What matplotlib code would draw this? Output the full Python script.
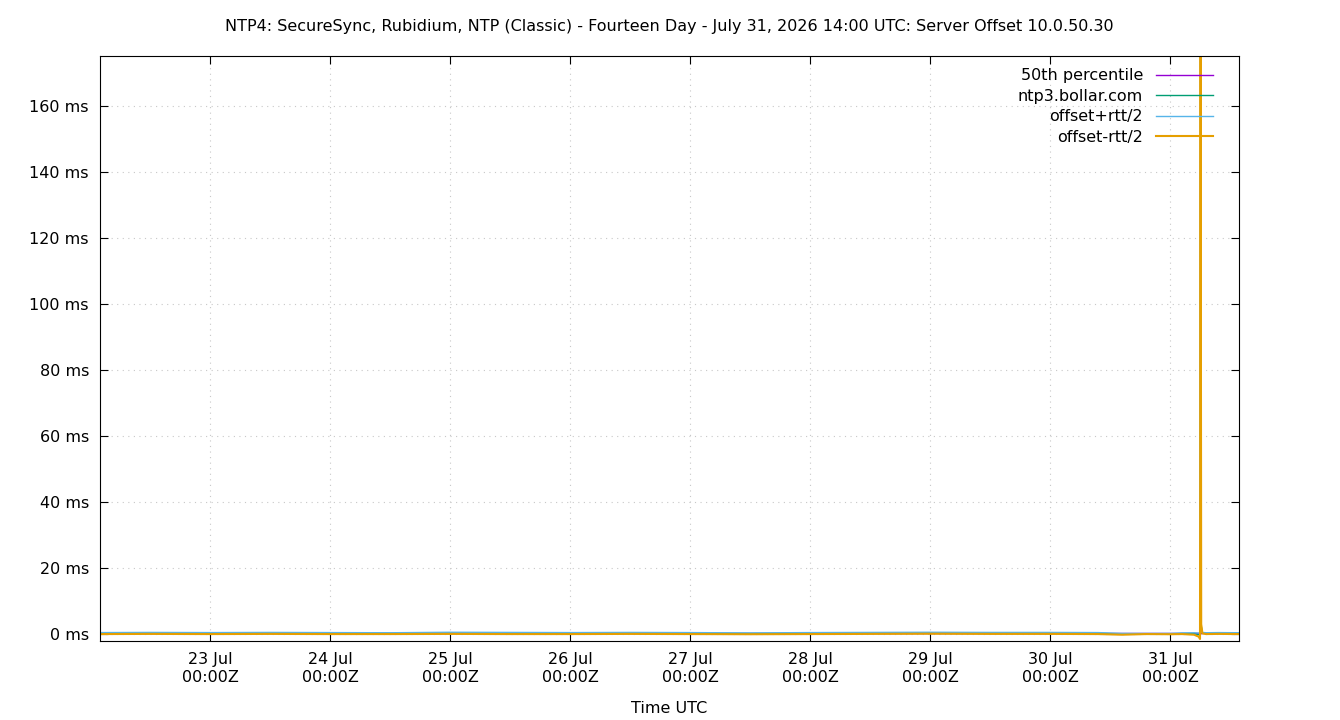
import matplotlib
matplotlib.use("Agg")
import matplotlib.pyplot as plt
import numpy as np

# time in days since 22 Jul 00:00Z
tick_days = [1, 2, 3, 4, 5, 6, 7, 8, 9]
tick_labels = ["23 Jul\n00:00Z", "24 Jul\n00:00Z", "25 Jul\n00:00Z", "26 Jul\n00:00Z",
               "27 Jul\n00:00Z", "28 Jul\n00:00Z", "29 Jul\n00:00Z", "30 Jul\n00:00Z",
               "31 Jul\n00:00Z"]
yticks = [0, 20, 40, 60, 80, 100, 120, 140, 160]

t = [0.08, 0.5, 1.0, 1.5, 2.0, 2.5, 3.0, 3.5, 4.0, 4.5, 5.0, 5.5, 6.0, 6.5, 7.0, 7.5,
     8.0, 8.4, 8.6, 8.8, 9.0, 9.1, 9.2, 9.24, 9.25, 9.255, 9.26, 9.27, 9.3, 9.4, 9.58]
plus = [0.45, 0.5, 0.45, 0.5, 0.45, 0.4, 0.55, 0.5, 0.45, 0.5, 0.45, 0.35, 0.45, 0.5, 0.55, 0.5,
        0.5, 0.45, 0.2, 0.2, 0.2, 0.35, 0.4, 0.3, 0.5, 180, 2.0, 0.5, 0.4, 0.45, 0.4]
minus = [0.0, 0.05, 0.0, 0.05, 0.0, 0.0, 0.05, 0.0, 0.0, 0.05, 0.0, -0.05, 0.0, 0.05, 0.1, 0.05,
         0.05, 0.0, -0.2, 0.0, -0.05, 0.0, -0.2, -0.8, -1.5, 180, 3.0, 0.2, 0.0, 0.05, 0.0]
offset = [0.2, 0.25, 0.2, 0.25, 0.2, 0.2, 0.3, 0.25, 0.2, 0.25, 0.2, 0.15, 0.2, 0.25, 0.3, 0.25,
          0.25, 0.2, 0.0, 0.1, 0.05, 0.15, 0.1, -0.2, -0.5, 180, 2.5, 0.35, 0.2, 0.25, 0.2]
median = 0.2

fig = plt.figure(figsize=(13.4, 7.2), dpi=100)
ax = fig.add_axes([100/1340, 1-641/720, 1139/1340, 585/720])
ax.axhline(median, color="#9400d3", lw=1, label="50th percentile")
ax.plot(t, offset, color="#009e73", lw=1, label="ntp3.bollar.com")
ax.plot(t, plus, color="#56b4e9", lw=1, label="offset+rtt/2")
ax.plot(t, minus, color="#e69f00", lw=1.5, label="offset-rtt/2")

ax.set_xlim(0.083, 9.575)
ax.set_ylim(-2.1, 175.2)
ax.set_xticks(tick_days)
ax.set_xticklabels(tick_labels)
ax.set_yticks(yticks)
ax.set_yticklabels([f"{v} ms" for v in yticks])
ax.tick_params(direction="in", length=6, labelsize=11.5, top=True, right=True, pad=8)
ax.grid(True, color="#c8c8c8", linestyle=(0, (1, 4)), lw=0.8)
for s in ax.spines.values():
    s.set_color("black")
ax.set_xlabel("Time UTC", fontsize=11.5, labelpad=12)
ax.set_title("NTP4: SecureSync, Rubidium, NTP (Classic) - Fourteen Day - July 31, 2026 14:00 UTC: Server Offset 10.0.50.30",
             fontsize=11.5, pad=18)
leg = ax.legend(loc="upper right", frameon=False, fontsize=11.5, markerfirst=False,
                handlelength=3.6, handletextpad=0.8, labelspacing=0.35,
                borderaxespad=0.0, bbox_to_anchor=(0.983, 0.99))
for tx in leg.get_texts():
    tx.set_ha("right")
fig.savefig("out.png", dpi=100)
